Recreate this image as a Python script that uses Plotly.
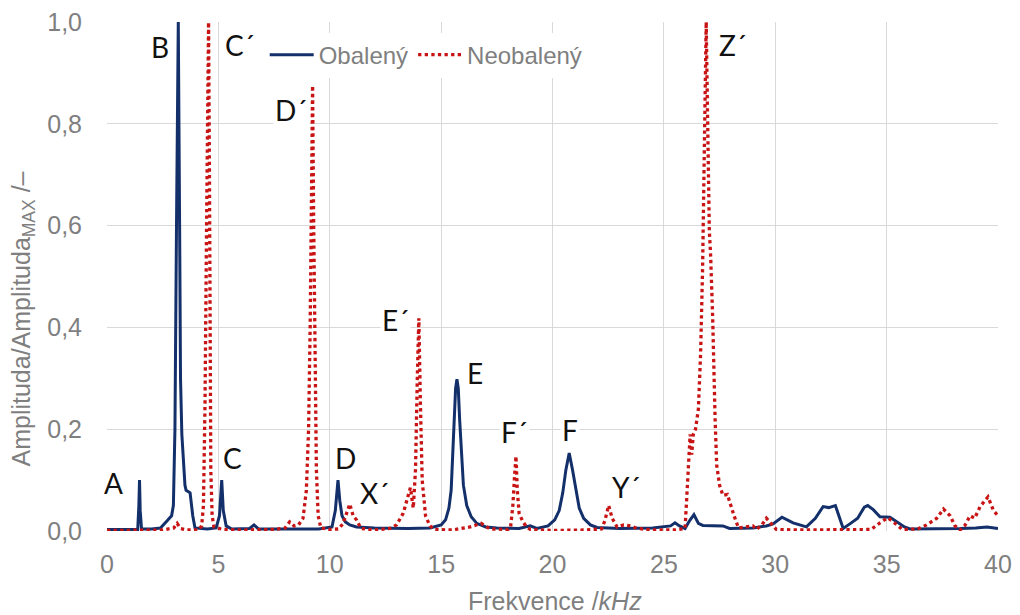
import plotly.graph_objects as go

# ---- data: Obalený (wrapped) ----
f_obal = [0.0, 1.0, 1.38, 1.43, 1.46, 1.49, 1.55, 2.0, 2.4, 2.7, 2.9, 2.98, 3.05, 3.12, 3.2,
          3.26, 3.3, 3.36, 3.42, 3.5, 3.55, 3.65, 3.73, 3.85, 3.95, 4.5, 4.9, 5.05, 5.15, 5.22,
          5.35, 5.6, 6.4, 6.6, 6.8, 8.0, 9.5, 10.1, 10.25, 10.37, 10.45, 10.55, 10.7, 10.9,
          11.2, 12.0, 13.5, 14.5, 15.0, 15.2, 15.35, 15.45, 15.52, 15.6, 15.65, 15.71, 15.77,
          15.83, 15.91, 16.0, 16.15, 16.35, 16.6, 17.0, 17.5, 18.5, 19.0, 19.3, 19.8, 20.1,
          20.3, 20.46, 20.6, 20.75, 20.9, 21.06, 21.2, 21.4, 21.7, 22.0,
          23.0, 24.5, 25.3, 25.5, 25.7, 25.95, 26.15, 26.35, 26.55, 26.75, 27.3, 27.65, 27.95,
          29.0, 29.6, 29.9, 30.3, 30.8, 31.4, 31.8, 32.15, 32.4, 32.7, 32.85, 33.05, 33.35,
          33.7, 34.0, 34.15, 34.4, 34.7, 35.15, 35.45, 35.8, 36.05, 37.0, 38.3, 39.0, 39.5, 40.0]
a_obal = [0.003, 0.003, 0.003, 0.05, 0.10, 0.04, 0.004, 0.004, 0.006, 0.02, 0.03, 0.05, 0.2, 0.6, 1.0,
          0.6, 0.3, 0.19, 0.14, 0.09, 0.08, 0.078, 0.075, 0.03, 0.006, 0.004, 0.006, 0.03, 0.10, 0.04,
          0.01, 0.004, 0.005, 0.012, 0.004, 0.004, 0.004, 0.008, 0.04, 0.10, 0.06, 0.03, 0.018, 0.012,
          0.008, 0.006, 0.005, 0.006, 0.012, 0.022, 0.045, 0.08, 0.15, 0.24, 0.28, 0.298, 0.28,
          0.22, 0.15, 0.09, 0.05, 0.028, 0.015, 0.008, 0.006, 0.005, 0.01, 0.005, 0.01, 0.022,
          0.04, 0.075, 0.12, 0.153, 0.12, 0.075, 0.045, 0.025, 0.012, 0.007,
          0.005, 0.006, 0.01, 0.016, 0.01, 0.005, 0.02, 0.032, 0.015, 0.011, 0.011, 0.01, 0.005,
          0.006, 0.01, 0.014, 0.027, 0.016, 0.008, 0.025, 0.048, 0.046, 0.05, 0.03, 0.005, 0.014,
          0.025, 0.047, 0.05, 0.042, 0.028, 0.027, 0.018, 0.008, 0.004, 0.004, 0.005, 0.006, 0.008, 0.005]

# ---- data: Neobalený (unwrapped) ----
f_neob = [0.0, 2.5, 3.0, 3.15, 3.3, 3.6, 4.1, 4.25, 4.33, 4.4, 4.47, 4.52, 4.56, 4.6, 4.63, 4.66,
          4.72, 4.8, 5.2, 6.0, 7.5, 8.0, 8.2, 8.4, 8.6, 8.8, 8.95, 9.05, 9.12, 9.18, 9.23, 9.28,
          9.33, 9.4, 9.48, 9.6, 10.0, 10.4, 10.6, 10.8, 10.9, 11.05, 11.2, 11.4, 12.0, 12.7, 13.0,
          13.3, 13.5, 13.62, 13.75, 13.85, 13.93, 14.0, 14.07, 14.15, 14.3, 14.5, 14.7, 15.5, 16.3,
          16.8, 17.2, 18.0, 18.12, 18.22, 18.3, 18.36, 18.42, 18.5, 18.65, 18.8, 19.0, 20.0, 21.5,
          22.2, 22.35, 22.52, 22.68, 22.9, 23.2, 23.5, 23.8, 24.5, 25.5, 25.95, 26.02, 26.1, 26.18,
          26.25, 26.32, 26.42, 26.55, 26.65, 26.74, 26.85, 26.9, 26.95, 27.04, 27.1, 27.19, 27.3,
          27.37, 27.5, 27.65, 27.85, 28.0, 28.15, 28.35, 28.7, 29.0, 29.15, 29.4, 29.6, 29.85,
          30.05, 31.0, 33.0, 34.3, 34.7, 35.05, 35.3, 35.7, 36.4, 36.8, 37.25, 37.55, 37.85, 38.07,
          38.3, 38.5, 38.75, 38.95, 39.2, 39.55, 39.8, 40.0]
a_neob = [0.001, 0.002, 0.006, 0.015, 0.005, 0.002, 0.002, 0.01, 0.05, 0.25, 0.6, 0.9, 1.0, 0.7, 0.35, 0.12,
          0.03, 0.008, 0.003, 0.002, 0.003, 0.006, 0.018, 0.01, 0.012, 0.025, 0.08, 0.2, 0.4, 0.7, 0.875, 0.6,
          0.35, 0.12, 0.03, 0.006, 0.003, 0.004, 0.015, 0.04, 0.053, 0.03, 0.022, 0.005, 0.002, 0.005, 0.012,
          0.035, 0.07, 0.085, 0.045, 0.12, 0.3, 0.418, 0.25, 0.1, 0.03, 0.01, 0.003, 0.002, 0.008,
          0.015, 0.004, 0.003, 0.008, 0.05, 0.11, 0.147, 0.08, 0.035, 0.02, 0.01, 0.003, 0.001, 0.002,
          0.004, 0.02, 0.05, 0.025, 0.008, 0.012, 0.01, 0.005, 0.002, 0.002, 0.005, 0.06, 0.12, 0.19,
          0.15, 0.19, 0.2, 0.24, 0.35, 0.52, 0.85, 1.0, 0.85, 0.59, 0.54, 0.42, 0.22,
          0.13, 0.09, 0.07, 0.072, 0.05, 0.03, 0.006, 0.008, 0.01, 0.003, 0.012, 0.025, 0.012,
          0.003, 0.002, 0.002, 0.003, 0.016, 0.026, 0.018, 0.003, 0.004, 0.012, 0.025, 0.043, 0.03, 0.01,
          0.002, 0.01, 0.03, 0.025, 0.048, 0.067, 0.04, 0.03]

# ---- peak labels ----
lab_text = ["A", "B", "C´", "D´", "C", "D", "X´", "E´", "E", "F´", "F", "Y´", "Z´"]
lab_x = [0.27, 2.4, 5.95, 8.3, 5.65, 10.7, 12.0, 12.95, 16.5, 18.3, 20.8, 23.3, 28.1]
lab_y = [0.094, 0.95, 0.955, 0.827, 0.143, 0.143, 0.075, 0.415, 0.31, 0.195, 0.198, 0.086, 0.955]

x_ticks = [0, 5, 10, 15, 20, 25, 30, 35, 40]
y_ticks = [0.0, 0.2, 0.4, 0.6, 0.8, 1.0]

x_title = "Frekvence /<i>kHz</i>"
y_title = "Amplituda/Amplituda<sub>MAX</sub> /–"

NAVY = "#13306b"
RED = "#c81414"
GREY = "#7f7f7f"
FONT = "Liberation Sans"

fig = go.Figure()
fig.add_trace(go.Scatter(x=f_obal, y=a_obal, mode="lines", name="Obalený",
                         line=dict(color=NAVY, width=3)))
fig.add_trace(go.Scatter(x=f_neob, y=a_neob, mode="lines", name="Neobalený",
                         line=dict(color=RED, width=3.3, dash="dot")))

for t, x, y in zip(lab_text, lab_x, lab_y):
    fig.add_annotation(x=x, y=y, text=t, showarrow=False, xref="x", yref="y",
                       font=dict(family="Lato", size=28, color="#111111"),
                       bgcolor="white", borderpad=1)

# axis titles placed as paper annotations to match the reference positions
fig.add_annotation(x=0.503, y=-0.1375, xref="paper", yref="paper", text=x_title,
                   showarrow=False, xanchor="center", yanchor="middle",
                   font=dict(family=FONT, size=25, color=GREY))
fig.add_annotation(x=-0.094, y=0.416, xref="paper", yref="paper", text=y_title,
                   showarrow=False, xanchor="center", yanchor="middle", textangle=-90,
                   font=dict(family=FONT, size=25, color=GREY))

# page body has an 8px margin: figure size/margins compensate so the plot sits like the reference
fig.update_layout(
    width=1012, height=607,
    margin=dict(l=99, r=22, t=14, b=84),
    paper_bgcolor="white", plot_bgcolor="white",
    separators=", ",
    font=dict(family=FONT, size=25, color=GREY),
    showlegend=True,
    legend=dict(orientation="h", x=0.177, y=0.935, xanchor="left", yanchor="middle",
                bgcolor="white", font=dict(family=FONT, size=24, color=GREY), itemwidth=44,
                traceorder="normal"),
    xaxis=dict(range=[0, 40], tickvals=x_ticks, showgrid=True, gridcolor="#d9d9d9",
               gridwidth=1, zeroline=False, showline=False, ticks="", automargin=False,
               ticklabelstandoff=16, ticklabeloverflow="allow",
               tickfont=dict(family=FONT, size=25, color=GREY)),
    yaxis=dict(range=[0, 1.0], tickvals=y_ticks, tickformat=".1f", showgrid=True,
               gridcolor="#d9d9d9", gridwidth=1, zeroline=False, showline=False, ticks="",
               automargin=False, ticklabelstandoff=24, ticklabeloverflow="allow",
               tickfont=dict(family=FONT, size=25, color=GREY)),
)

fig.write_html("out.html")
